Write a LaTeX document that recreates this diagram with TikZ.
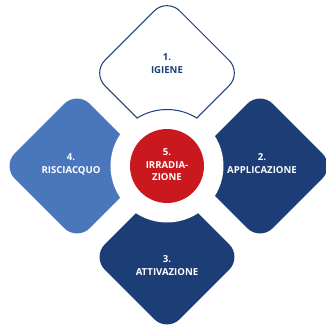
\documentclass[tikz,border=0pt]{standalone}
\usepackage{fontspec}
\setmainfont{Open Sans}
\usetikzlibrary{shapes.geometric}
\definecolor{navy}{HTML}{1C3D75}
\definecolor{lightblue}{HTML}{4A77BC}
\definecolor{signal}{HTML}{C9191F}
\begin{document}
\begin{tikzpicture}[
  petal/.style={diamond, aspect=1, minimum size=150pt, inner sep=0pt, rounded corners=18pt},
  txt/.style={align=center, font=\fontsize{9.6}{13}\selectfont\bfseries, text=white}
]
\useasboundingbox (-167pt,-161pt) rectangle (158pt,166pt);
% petals
\node[petal, draw=navy, line width=1pt, fill=white] (igiene) at (0pt,93pt) {};
\node[petal, fill=navy] (appl) at (93pt,0pt) {};
\node[petal, fill=navy] (attiv) at (0pt,-91pt) {};
\node[petal, fill=lightblue] (risc) at (-90pt,0pt) {};
% gap round the centre
\node[circle, fill=white, minimum size=113pt, inner sep=0pt] (gap) at (0,0) {};
\begin{scope}
\clip (igiene.north) -- (igiene.east) -- (igiene.south) -- (igiene.west) -- cycle;
\draw[navy, line width=1pt] (gap.center) circle[radius=56.5pt];
\end{scope}
\node[circle, fill=signal, minimum size=74pt, inner sep=0pt] (irr) at (0,0) {};
% labels
\node[txt, text=navy] (t1) at ([yshift=9pt]igiene.center) {1.\\IGIENE};
\node[txt] (t2) at ([xshift=2pt,yshift=2pt]appl.center) {2.\\APPLICAZIONE};
\node[txt] (t3) at ([yshift=-9pt]attiv.center) {3.\\ATTIVAZIONE};
\node[txt] (t4) at ([xshift=-6pt,yshift=2pt]risc.center) {4.\\RISCIACQUO};
\node[txt, font=\fontsize{9.6}{12.5}\selectfont\bfseries] (t5) at ([yshift=1pt]irr.center) {5.\\IRRADIA-\\ZIONE};
\end{tikzpicture}
\end{document}
